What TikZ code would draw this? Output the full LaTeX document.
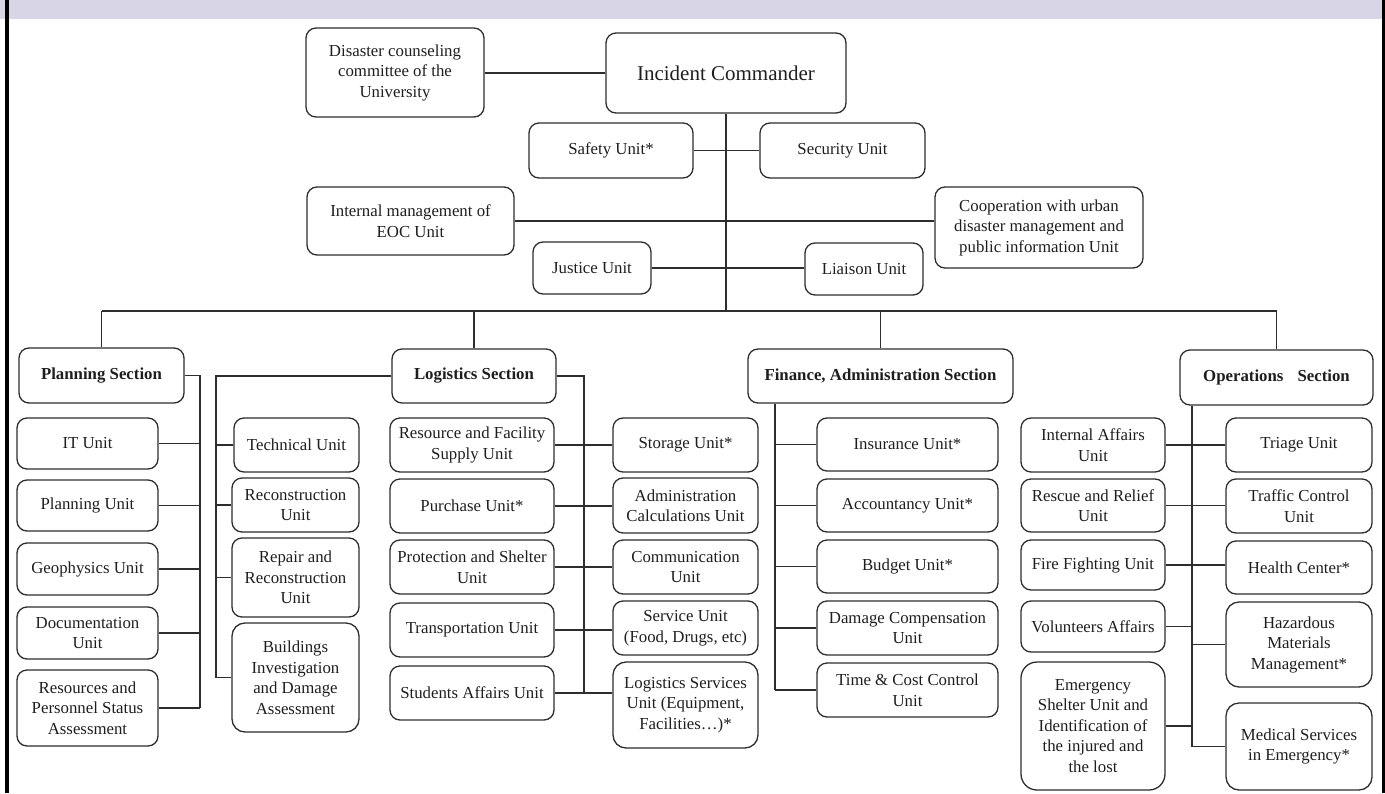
\documentclass[tikz,border=0pt]{standalone}
\usepackage{fontspec}
\setmainfont{Liberation Serif}
\definecolor{band}{RGB}{216,214,230}
\definecolor{linec}{RGB}{45,45,45}
\definecolor{textc}{RGB}{30,30,30}
\newcommand\fsz{\fontsize{16.8}{20.5}\selectfont}
\newcommand\ubox[7][]{\node[box,#1,minimum width={#5-#3},minimum height={#6-#4}] (#2) at ({(#3+#5)/2},{(#4+#6)/2}) {#7};}
\tikzset{
  box/.style={draw=linec,line width=1.3pt,rounded corners=10pt,align=center,inner sep=0pt,font=\fsz,text=textc},
  conn/.style={draw=linec,line width=1.3pt},
}
\begin{document}
\begin{tikzpicture}[x=1pt,y=-1pt]
\useasboundingbox (0,0) rectangle (1385,793);
% header band and borders
\fill[band] (0,0) rectangle (1385,19);
\fill[black] (5,0) rectangle (9,793);
\fill[black] (1382,0) rectangle (1385,793);
% top nodes
\ubox{dis}{306}{28}{484}{117}{Disaster counseling\\committee of the\\University}
\ubox[font=\fontsize{21}{25}\selectfont]{ic}{606}{33}{846}{113}{Incident Commander}
\ubox{saf}{529}{123}{693}{178}{Safety Unit*}
\ubox{sec}{760}{123}{925}{178}{Security Unit}
\ubox{iem}{307}{187}{514}{255}{Internal management of\\EOC Unit}
\ubox{coop}{935}{187}{1143}{268}{Cooperation with urban\\disaster management and\\public information Unit}
\ubox{jus}{533}{242}{651}{294}{Justice Unit}
\ubox{lia}{805}{243}{923}{295}{Liaison Unit}
% sections
\ubox{ps}{19}{348}{184}{403}{\textbf{Planning Section}}
\ubox{ls}{392}{349}{556}{403}{\textbf{Logistics Section}}
\ubox{fs}{748}{349}{1013}{403}{\textbf{Finance, Administration Section}}
\ubox{os}{1180}{350}{1373}{405}{\textbf{Operations\hspace{14pt}Section}}
% planning units
\ubox{it}{17}{418}{158}{469}{IT Unit}
\ubox{pu}{17}{480}{158}{531}{Planning Unit}
\ubox{geo}{17}{543}{158}{595}{Geophysics Unit}
\ubox{doc}{17}{607}{158}{659}{Documentation\\Unit}
\ubox{rps}{17}{670}{158}{746}{Resources and\\Personnel Status\\Assessment}
% technical column
\ubox{tec}{234}{418}{359}{472}{Technical Unit}
\ubox{rec}{232}{478}{359}{532}{Reconstruction\\Unit}
\ubox{rep}{232}{538}{359}{617}{Repair and\\Reconstruction\\Unit}
\ubox[rounded corners=13pt]{bld}{232}{623}{359}{732}{Buildings\\Investigation\\and Damage\\Assessment}
% logistics left
\ubox{rfs}{390}{418}{554}{472}{Resource and Facility\\Supply Unit}
\ubox{pur}{390}{479}{554}{533}{Purchase Unit*}
\ubox{pro}{390}{540}{554}{594}{Protection and Shelter\\Unit}
\ubox{tra}{390}{603}{554}{657}{Transportation Unit}
\ubox{stu}{390}{666}{554}{720}{Students Affairs Unit}
% logistics right
\ubox{sto}{613}{418}{758}{472}{Storage Unit*}
\ubox{adm}{613}{478}{758}{533}{Administration\\Calculations Unit}
\ubox{com}{613}{540}{758}{594}{Communication\\Unit}
\ubox{ser}{613}{601}{758}{655}{Service Unit\\(Food, Drugs, etc)}
\ubox[rounded corners=13pt]{lsu}{613}{662}{758}{748}{Logistics Services\\Unit (Equipment,\\Facilities\ldots)*}
% finance
\ubox{ins}{817}{418}{998}{471}{Insurance Unit*}
\ubox{acc}{817}{479}{998}{532}{Accountancy Unit*}
\ubox{bud}{817}{540}{998}{593}{Budget Unit*}
\ubox{dam}{817}{601}{998}{655}{Damage Compensation\\Unit}
\ubox{tim}{817}{663}{998}{717}{Time \& Cost Control\\Unit}
% operations left
\ubox{iau}{1021}{418}{1165}{472}{Internal Affairs\\Unit}
\ubox{rr}{1021}{479}{1165}{532}{Rescue and Relief\\Unit}
\ubox{ff}{1021}{540}{1165}{590}{Fire Fighting Unit}
\ubox{vol}{1021}{601}{1165}{652}{Volunteers Affairs}
\ubox[rounded corners=16pt]{esu}{1021}{662}{1165}{790}{Emergency\\Shelter Unit and\\Identification of\\the injured and\\the lost}
% operations right
\ubox{tri}{1226}{418}{1372}{472}{Triage Unit}
\ubox{tc}{1226}{479}{1372}{533}{Traffic Control\\Unit}
\ubox{hc}{1226}{541}{1372}{594}{Health Center*}
\ubox[rounded corners=13pt]{haz}{1226}{602}{1372}{687}{Hazardous\\Materials\\Management*}
\ubox[rounded corners=13pt]{med}{1226}{703}{1372}{790}{Medical Services\\in Emergency*}
% helper coordinates
\coordinate (bus) at (0,311);
\coordinate (pv) at (200,0);
\coordinate (lv) at (216,0);
\coordinate (lrv) at (584,0);
\coordinate (fv) at (775,0);
\coordinate (ov) at (1192,0);
% top connectors
\draw[conn] (dis.east |- ic.west) -- (ic.west);
\draw[conn] (ic.south) -- (ic.south |- bus);
\draw[conn] (saf.east) -- (sec.west);
\draw[conn] (iem.east) -- (iem.east -| coop.west);
\draw[conn] (jus.east) -- (jus.east -| lia.west);
% bus and drops
\draw[conn] (ps.north |- bus) -- (os.north |- bus);
\draw[conn] (ps.north) -- (ps.north |- bus);
\draw[conn] (ls.north) -- (ls.north |- bus);
\draw[conn] (fs.north) -- (fs.north |- bus);
\draw[conn] (os.north) -- (os.north |- bus);
% planning
\draw[conn] (ps.east) -- (ps.east -| pv) -- (rps.east -| pv);
\foreach \n in {it,pu,geo,doc,rps} \draw[conn] (\n.east) -- (\n.east -| pv);
% technical column
\draw[conn] (ls.west) -- (ls.west -| lv) -- (bld.west -| lv);
\foreach \n in {tec,rec,rep,bld} \draw[conn] (\n.west) -- (\n.west -| lv);
% logistics
\draw[conn] (ls.east) -- (ls.east -| lrv) -- (stu.east -| lrv);
\draw[conn] (rfs.east) -- (rfs.east -| sto.west);
\draw[conn] (pur.east) -- (pur.east -| adm.west);
\draw[conn] (pro.east) -- (pro.east -| com.west);
\draw[conn] (tra.east) -- (tra.east -| ser.west);
\draw[conn] (stu.east) -- (stu.east -| lsu.west);
% finance
\draw[conn] (fs.south -| fv) -- (tim.west -| fv);
\foreach \n in {ins,acc,bud,dam,tim} \draw[conn] (\n.west) -- (\n.west -| fv);
% operations
\draw[conn] (os.south -| ov) -- (med.west -| ov);
\draw[conn] (iau.east) -- (iau.east -| tri.west);
\draw[conn] (rr.east) -- (rr.east -| tc.west);
\draw[conn] (ff.east) -- (ff.east -| hc.west);
\draw[conn] (vol.east) -- (vol.east -| ov);
\draw[conn] (esu.east) -- (esu.east -| ov);
\draw[conn] (haz.west) -- (haz.west -| ov);
\draw[conn] (med.west) -- (med.west -| ov);
\end{tikzpicture}
\end{document}
